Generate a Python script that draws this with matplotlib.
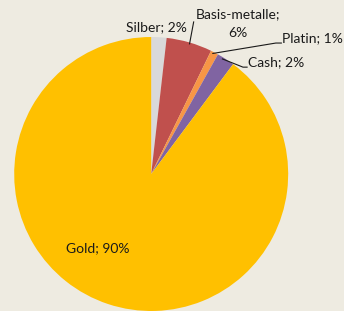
import matplotlib
matplotlib.use("Agg")
import matplotlib.pyplot as plt

# Anteile (im Uhrzeigersinn ab 12 Uhr)
names = ["Silber", "Basis-metalle", "Platin", "Cash", "Gold"]
shares = [1.8, 5.4, 0.9, 2.1, 89.8]
labels = ["Silber; 2%", "Basis-metalle;\n6%", "Platin; 1%", "Cash; 2%", "Gold; 90%"]
colors = ["#D9D9D9", "#C0504D", "#F79646", "#8064A2", "#FFC000"]

bg = "#EEEBE1"
plt.rcParams["font.family"] = ["Lato", "DejaVu Sans"]

fig = plt.figure(figsize=(3.44, 3.11), dpi=100, facecolor=bg)
ax = fig.add_axes([0.041, 0.0, 0.797, 0.881])
ax.set_facecolor(bg)

wedges, _ = ax.pie(shares, colors=colors, startangle=90, counterclock=False,
                   radius=1, wedgeprops=dict(linewidth=0))
ax.set_xlim(-1, 1)
ax.set_ylim(-1, 1)
ax.set_aspect("equal")
ax.axis("off")

fs = 10
tc = "#1a1a1a"
# Beschriftungen mit Fuehrungslinien (Position in Radien-Einheiten)
ax.text(0.04, 1.07, labels[0], ha="center", va="center", fontsize=fs, color=tc)
ax.text(0.635, 1.10, labels[1], ha="center", va="center", fontsize=fs, color=tc,
        linespacing=1.7)
ax.plot([0.31, 0.28], [1.11, 0.95], color=tc, lw=0.8, clip_on=False)

ax.text(0.955, 0.99, labels[2], ha="left", va="center", fontsize=fs, color=tc)
ax.plot([0.45, 0.91, 0.95], [0.88, 0.956, 0.956], color=tc, lw=0.8, clip_on=False)

ax.text(0.705, 0.82, labels[3], ha="left", va="center", fontsize=fs, color=tc)
ax.plot([0.52, 0.67, 0.70], [0.84, 0.78, 0.78], color=tc, lw=0.8, clip_on=False)

ax.text(-0.39, -0.54, labels[4], ha="center", va="center", fontsize=fs, color=tc)

fig.savefig("out.png", dpi=100, facecolor=bg)
